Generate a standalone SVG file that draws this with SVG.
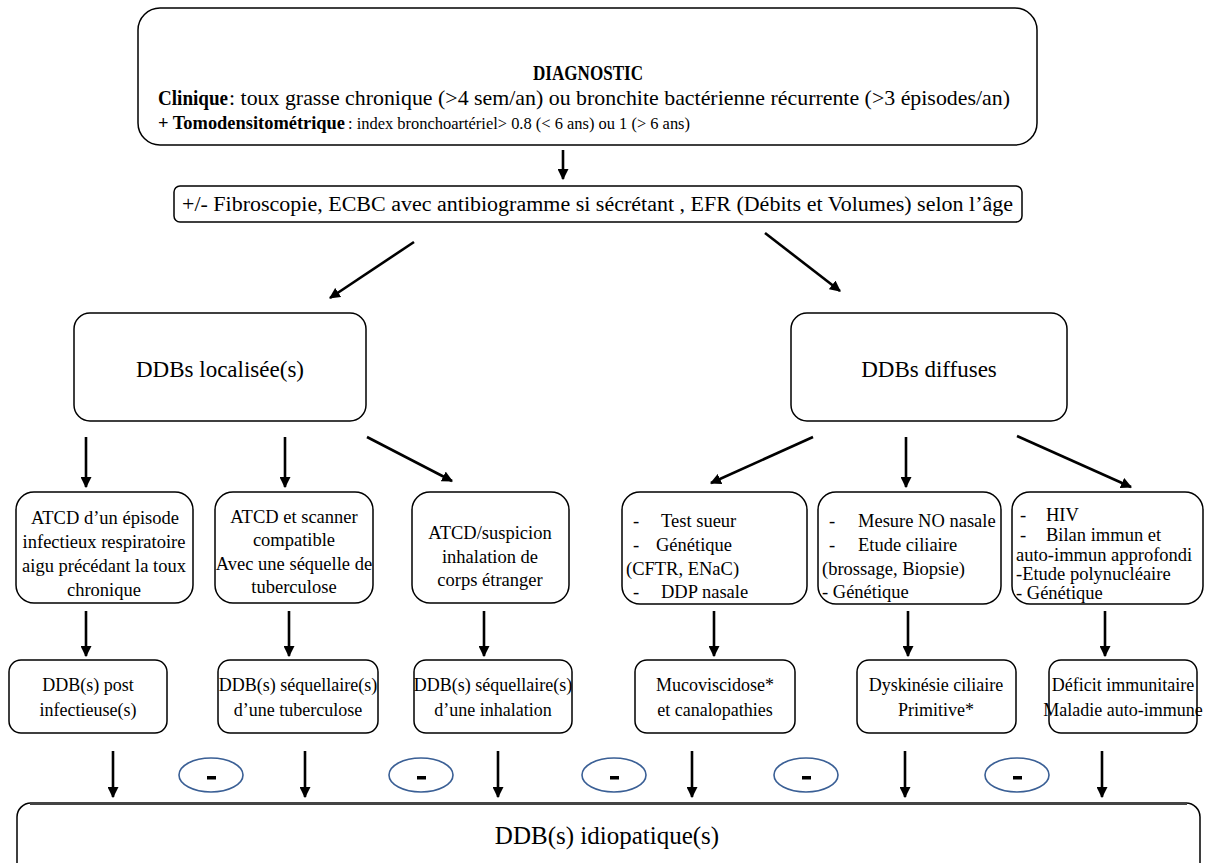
<svg xmlns="http://www.w3.org/2000/svg" width="1208" height="863" viewBox="0 0 1208 863">
<defs>
<marker id="ah" viewBox="0 0 10 10" refX="9" refY="5" markerWidth="11" markerHeight="11" markerUnits="userSpaceOnUse" orient="auto">
<path d="M0,0 L10,5 L0,10 z" fill="#000"/>
</marker>
<style>
.box{fill:#fff;stroke:#000;stroke-width:1.5}
.t{font-family:"Liberation Serif","Times New Roman",serif;fill:#000}
.c{text-anchor:middle}
.b{font-weight:bold}
.ar{stroke:#000;stroke-width:2.6;fill:none;marker-end:url(#ah)}
.el{fill:#fff;stroke:#3a5f95;stroke-width:1.6}
</style>
</defs>
<rect width="1208" height="863" fill="#fff"/>

<g id="n-diagnostic">
<rect class="box" x="138" y="8" width="899" height="137" rx="22"/>
<text class="t b" x="533" y="80" font-size="20" textLength="110" lengthAdjust="spacingAndGlyphs">DIAGNOSTIC</text>
<text class="t b" x="158" y="105" font-size="20" textLength="70" lengthAdjust="spacingAndGlyphs">Clinique</text>
<text class="t" x="229" y="105" font-size="21" textLength="781" lengthAdjust="spacingAndGlyphs">: toux grasse chronique (&gt;4 sem/an) ou bronchite bactérienne récurrente (&gt;3 épisodes/an)</text>
<text class="t b" x="158" y="129" font-size="18" textLength="187" lengthAdjust="spacingAndGlyphs">+ Tomodensitométrique</text>
<text class="t" x="348" y="129" font-size="17" textLength="342" lengthAdjust="spacingAndGlyphs">: index bronchoartériel&gt; 0.8 (&lt; 6 ans) ou 1 (&gt; 6 ans)</text>
</g>

<g id="n-examens">
<rect class="box" x="174" y="186" width="848" height="36" rx="6"/>
<text class="t" x="182" y="211" font-size="20" textLength="831" lengthAdjust="spacingAndGlyphs">+/-  Fibroscopie, ECBC avec antibiogramme si sécrétant , EFR (Débits et Volumes) selon l’âge</text>
</g>

<g id="n-localisees">
<rect class="box" x="74" y="313" width="292" height="108" rx="16"/>
<text class="t c" x="220" y="377" font-size="23">DDBs localisée(s)</text>
</g>
<g id="n-diffuses">
<rect class="box" x="791" y="313" width="276" height="108" rx="16"/>
<text class="t c" x="929" y="377" font-size="23">DDBs diffuses</text>
</g>

<g id="n-atcd-infectieux">
<rect class="box" x="16" y="492" width="177" height="111" rx="18"/>
<text class="t c" font-size="18.5"><tspan x="105" y="524">ATCD d’un épisode</tspan><tspan x="104" y="548">infectieux respiratoire</tspan><tspan x="104" y="572">aigu précédant  la toux</tspan><tspan x="104" y="596">chronique</tspan></text>
</g>
<g id="n-atcd-tuberculose">
<rect class="box" x="215" y="492" width="158" height="111" rx="18"/>
<text class="t c" font-size="18.5"><tspan x="294" y="523">ATCD et scanner</tspan><tspan x="294" y="546">compatible</tspan><tspan x="294" y="570">Avec une séquelle de</tspan><tspan x="294" y="593">tuberculose</tspan></text>
</g>
<g id="n-atcd-inhalation">
<rect class="box" x="412" y="492" width="157" height="111" rx="18"/>
<text class="t c" font-size="18.5"><tspan x="490" y="539">ATCD/suspicion</tspan><tspan x="490" y="563">inhalation de</tspan><tspan x="490" y="586">corps étranger</tspan></text>
</g>
<g id="n-test-sueur">
<rect class="box" x="622" y="492" width="185" height="112" rx="18"/>
<text class="t" font-size="18.5"><tspan x="633" y="527">-</tspan><tspan x="661" y="527">Test sueur</tspan><tspan x="633" y="551">-</tspan><tspan x="656" y="551">Génétique</tspan><tspan x="626" y="575">(CFTR, ENaC)</tspan><tspan x="633" y="598">-</tspan><tspan x="661" y="598">DDP nasale</tspan></text>
</g>
<g id="n-mesure-no">
<rect class="box" x="818" y="492" width="183" height="112" rx="18"/>
<text class="t" font-size="18.5"><tspan x="829" y="527">-</tspan><tspan x="858" y="527">Mesure NO nasale</tspan><tspan x="829" y="551">-</tspan><tspan x="858" y="551">Etude ciliaire</tspan><tspan x="822" y="575">(brossage, Biopsie)</tspan><tspan x="822" y="598">- Génétique</tspan></text>
</g>
<g id="n-hiv">
<rect class="box" x="1012" y="492" width="191" height="112" rx="18"/>
<text class="t" font-size="18.5"><tspan x="1020" y="521">-</tspan><tspan x="1046" y="521">HIV</tspan><tspan x="1020" y="541">-</tspan><tspan x="1046" y="541">Bilan immun et</tspan><tspan x="1016" y="561">auto-immun approfondi</tspan><tspan x="1016" y="580">-Etude polynucléaire</tspan><tspan x="1016" y="599">- Génétique</tspan></text>
</g>

<g id="n-post-infectieuse">
<rect class="box" x="9" y="660" width="158" height="73" rx="12"/>
<text class="t c" font-size="18"><tspan x="88" y="691">DDB(s) post</tspan><tspan x="88" y="716">infectieuse(s)</tspan></text>
</g>
<g id="n-seq-tuberculose">
<rect class="box" x="218" y="660" width="160" height="73" rx="12"/>
<text class="t c" font-size="18"><tspan x="298" y="691">DDB(s) séquellaire(s)</tspan><tspan x="298" y="716">d’une tuberculose</tspan></text>
</g>
<g id="n-seq-inhalation">
<rect class="box" x="414" y="660" width="158" height="73" rx="12"/>
<text class="t c" font-size="18"><tspan x="493" y="691">DDB(s) séquellaire(s)</tspan><tspan x="493" y="716">d’une inhalation</tspan></text>
</g>
<g id="n-mucoviscidose">
<rect class="box" x="635" y="660" width="160" height="73" rx="12"/>
<text class="t c" font-size="18"><tspan x="715" y="691">Mucoviscidose*</tspan><tspan x="715" y="716">et canalopathies</tspan></text>
</g>
<g id="n-dyskinesie">
<rect class="box" x="857" y="660" width="159" height="73" rx="12"/>
<text class="t c" font-size="18"><tspan x="936" y="691">Dyskinésie ciliaire</tspan><tspan x="936" y="716">Primitive*</tspan></text>
</g>
<g id="n-deficit">
<rect class="box" x="1049" y="660" width="148" height="73" rx="12"/>
<text class="t c" font-size="18"><tspan x="1123" y="691">Déficit immunitaire</tspan><tspan x="1123" y="716">Maladie auto-immune</tspan></text>
</g>

<g id="n-minus">
<ellipse class="el" cx="211" cy="775" rx="32" ry="17"/>
<ellipse class="el" cx="421" cy="775" rx="32" ry="17"/>
<ellipse class="el" cx="614" cy="775" rx="32" ry="17"/>
<ellipse class="el" cx="806" cy="775" rx="32" ry="17"/>
<ellipse class="el" cx="1017" cy="775" rx="32" ry="17"/>
<g fill="#000">
<rect x="207" y="776" width="9" height="3.5"/>
<rect x="417" y="776" width="9" height="3.5"/>
<rect x="610" y="776" width="9" height="3.5"/>
<rect x="802" y="776" width="9" height="3.5"/>
<rect x="1013" y="776" width="9" height="3.5"/>
</g>
</g>

<g id="n-idiopatique">
<rect class="box" x="17" y="803" width="1183" height="80" rx="14"/>
<line x1="30" y1="803.5" x2="1187" y2="803.5" stroke="#444" stroke-width="3"/>
<text class="t c" x="607" y="844" font-size="25">DDB(s) idiopatique(s)</text>
</g>

<g id="connectors">
<line class="ar" x1="563" y1="150" x2="563" y2="179"/>
<line class="ar" x1="414" y1="242" x2="330" y2="298"/>
<line class="ar" x1="765" y1="233" x2="840" y2="291"/>
<line class="ar" x1="86" y1="437" x2="86" y2="487"/>
<line class="ar" x1="285" y1="437" x2="285" y2="487"/>
<line class="ar" x1="367" y1="437" x2="452" y2="481"/>
<line class="ar" x1="813" y1="437" x2="711" y2="483"/>
<line class="ar" x1="906" y1="437" x2="906" y2="487"/>
<line class="ar" x1="1017" y1="436" x2="1131" y2="487"/>
<line class="ar" x1="86" y1="611" x2="86" y2="656"/>
<line class="ar" x1="289" y1="611" x2="289" y2="656"/>
<line class="ar" x1="484" y1="611" x2="484" y2="656"/>
<line class="ar" x1="714" y1="611" x2="714" y2="656"/>
<line class="ar" x1="908" y1="611" x2="908" y2="656"/>
<line class="ar" x1="1105" y1="611" x2="1105" y2="656"/>
<line class="ar" x1="113" y1="751" x2="113" y2="797"/>
<line class="ar" x1="305" y1="751" x2="305" y2="797"/>
<line class="ar" x1="498" y1="751" x2="498" y2="797"/>
<line class="ar" x1="692" y1="751" x2="692" y2="797"/>
<line class="ar" x1="905" y1="751" x2="905" y2="797"/>
<line class="ar" x1="1102" y1="751" x2="1102" y2="797"/>
</g>
</svg>
